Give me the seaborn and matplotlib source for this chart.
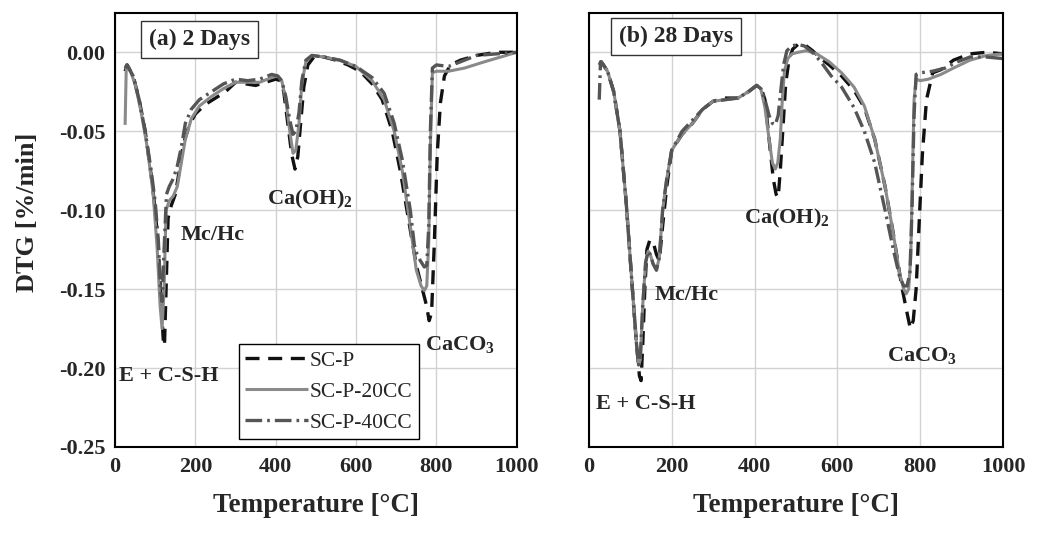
import numpy as np
import pandas as pd
import matplotlib
matplotlib.use("Agg")
import matplotlib.pyplot as plt
import seaborn as sns

# ---------------- data ----------------
# (a) 2 days
a_scp_T = [25, 30, 45, 60, 75, 90, 100, 108, 115, 120, 123, 127, 132, 140, 150, 160, 170, 185, 200, 225, 250, 275,
           300, 325, 350, 375, 400, 412, 420, 430, 440, 448, 455, 462, 470, 480, 495, 520, 550, 580, 610, 640, 665,
           690, 710, 730, 750, 765, 775, 782, 788, 795, 802, 810, 820, 835, 860, 900, 950, 1000]
a_scp_V = [-0.012, -0.008, -0.015, -0.030, -0.050, -0.078, -0.100, -0.125, -0.160, -0.182, -0.186, -0.150, -0.105,
           -0.097, -0.090, -0.075, -0.058, -0.046, -0.039, -0.033, -0.029, -0.025, -0.019, -0.020, -0.021, -0.019,
           -0.017, -0.018, -0.025, -0.045, -0.065, -0.074, -0.066, -0.045, -0.022, -0.008, -0.003, -0.003, -0.005,
           -0.008, -0.012, -0.020, -0.030, -0.050, -0.075, -0.105, -0.135, -0.150, -0.160, -0.170, -0.165, -0.120,
           -0.065, -0.032, -0.015, -0.008, -0.005, -0.002, 0.0, 0.0]

a_20_T = [25, 28, 35, 50, 65, 80, 95, 105, 112, 117, 122, 127, 135, 145, 155, 165, 175, 190, 210, 240, 270, 300, 330,
          360, 390, 405, 415, 425, 435, 443, 450, 458, 465, 475, 490, 520, 560, 600, 640, 670, 695, 715, 735, 750,
          762, 770, 776, 781, 785, 790, 800, 830, 870, 920, 960, 1000]
a_20_V = [-0.046, -0.008, -0.010, -0.020, -0.038, -0.060, -0.090, -0.125, -0.160, -0.175, -0.150, -0.100, -0.094,
          -0.091, -0.085, -0.070, -0.055, -0.042, -0.034, -0.028, -0.023, -0.019, -0.019, -0.019, -0.016, -0.015,
          -0.018, -0.030, -0.050, -0.064, -0.062, -0.045, -0.020, -0.006, -0.002, -0.003, -0.005, -0.009, -0.018,
          -0.030, -0.050, -0.075, -0.110, -0.138, -0.148, -0.151, -0.148, -0.120, -0.060, -0.013, -0.012, -0.012,
          -0.010, -0.006, -0.003, 0.0]

a_40_T = [25, 30, 45, 60, 75, 90, 100, 108, 113, 117, 122, 128, 135, 145, 155, 165, 175, 190, 210, 240, 270, 300, 330,
          360, 390, 405, 415, 425, 435, 443, 450, 458, 465, 475, 490, 520, 560, 600, 640, 670, 695, 715, 735, 745,
          752, 760, 770, 776, 781, 785, 790, 800, 830, 860, 900, 950, 1000]
a_40_V = [-0.010, -0.008, -0.015, -0.030, -0.050, -0.075, -0.095, -0.120, -0.150, -0.158, -0.125, -0.090, -0.085,
          -0.080, -0.072, -0.060, -0.045, -0.036, -0.030, -0.025, -0.020, -0.017, -0.018, -0.017, -0.014, -0.015,
          -0.018, -0.028, -0.043, -0.052, -0.050, -0.038, -0.018, -0.005, -0.002, -0.003, -0.005, -0.009, -0.016,
          -0.026, -0.045, -0.068, -0.100, -0.122, -0.128, -0.132, -0.136, -0.135, -0.110, -0.050, -0.010, -0.008,
          -0.009, -0.006, -0.002, -0.001, 0.0]

# (b) 28 days
b_scp_T = [25, 30, 45, 60, 75, 90, 105, 115, 122, 126, 130, 135, 140, 147, 155, 163, 170, 178, 188, 200, 225, 250,
           275, 300, 330, 360, 385, 405, 415, 425, 435, 445, 452, 457, 462, 468, 475, 483, 492, 505, 520, 540, 560,
           580, 610, 640, 665, 690, 715, 735, 755, 768, 776, 783, 790, 797, 805, 815, 830, 850, 880, 920, 960, 1000]
b_scp_V = [-0.008, -0.006, -0.012, -0.025, -0.050, -0.095, -0.150, -0.185, -0.205, -0.208, -0.185, -0.150, -0.125,
           -0.119, -0.120, -0.128, -0.132, -0.110, -0.085, -0.062, -0.052, -0.045, -0.036, -0.031, -0.029, -0.029,
           -0.025, -0.021, -0.022, -0.030, -0.055, -0.080, -0.090, -0.092, -0.075, -0.050, -0.020, -0.005, 0.002,
           0.005, 0.005, 0.001, -0.004, -0.008, -0.015, -0.024, -0.035, -0.055, -0.085, -0.115, -0.148, -0.165,
           -0.175, -0.170, -0.150, -0.110, -0.065, -0.030, -0.013, -0.011, -0.005, -0.001, 0.0, -0.001]

b_20_T = [25, 30, 45, 60, 75, 90, 105, 115, 120, 124, 130, 137, 143, 148, 155, 163, 170, 178, 188, 200, 225, 250, 275,
          300, 330, 360, 385, 405, 415, 425, 435, 443, 450, 456, 462, 467, 472, 480, 490, 505, 525, 550, 580, 610,
          640, 665, 690, 715, 735, 750, 760, 766, 772, 777, 781, 785, 790, 800, 820, 850, 880, 920, 960, 1000]
b_20_V = [-0.008, -0.006, -0.012, -0.025, -0.050, -0.095, -0.150, -0.185, -0.198, -0.195, -0.160, -0.133, -0.126,
          -0.128, -0.134, -0.138, -0.130, -0.100, -0.080, -0.062, -0.052, -0.045, -0.036, -0.031, -0.030, -0.029,
          -0.025, -0.021, -0.023, -0.035, -0.055, -0.070, -0.074, -0.070, -0.055, -0.030, -0.012, -0.004, -0.001,
          0.000, 0.001, -0.001, -0.006, -0.013, -0.022, -0.034, -0.055, -0.085, -0.115, -0.140, -0.150, -0.153,
          -0.150, -0.130, -0.080, -0.030, -0.017, -0.018, -0.017, -0.014, -0.010, -0.005, -0.002, -0.001]

b_40_T = [25, 28, 35, 45, 60, 75, 90, 105, 115, 120, 124, 130, 137, 143, 148, 155, 163, 170, 178, 188, 200, 225, 250,
          275, 300, 330, 360, 385, 405, 415, 425, 435, 443, 450, 457, 463, 470, 478, 490, 505, 520, 540, 560, 585,
          610, 640, 665, 690, 715, 735, 750, 760, 768, 775, 780, 785, 790, 800, 830, 860, 890, 920, 960, 1000]
b_40_V = [-0.030, -0.006, -0.008, -0.012, -0.025, -0.050, -0.095, -0.150, -0.185, -0.198, -0.195, -0.160, -0.133,
          -0.126, -0.128, -0.134, -0.138, -0.130, -0.100, -0.080, -0.062, -0.050, -0.043, -0.036, -0.031, -0.030,
          -0.029, -0.025, -0.021, -0.023, -0.030, -0.040, -0.045, -0.046, -0.040, -0.025, -0.008, 0.001, 0.004,
          0.005, 0.004, 0.000, -0.006, -0.015, -0.022, -0.035, -0.050, -0.070, -0.100, -0.125, -0.142, -0.148,
          -0.148, -0.140, -0.100, -0.040, -0.014, -0.013, -0.012, -0.010, -0.006, -0.003, -0.003, -0.004]

series_names = ["SC-P", "SC-P-20CC", "SC-P-40CC"]
panel_titles = ["(a) 2 Days", "(b) 28 Days"]
x_ticks = [0, 200, 400, 600, 800, 1000]
y_ticks = [-0.25, -0.20, -0.15, -0.10, -0.05, 0.00]

# ---------------- style ----------------
sns.set_theme(style="whitegrid")
plt.rcParams["font.family"] = ["Liberation Serif", "DejaVu Serif"]
plt.rcParams["axes.unicode_minus"] = False
plt.rcParams["mathtext.fontset"] = "custom"
plt.rcParams["mathtext.rm"] = "Liberation Serif"
plt.rcParams["mathtext.bf"] = "Liberation Serif:bold"
plt.rcParams["mathtext.it"] = "Liberation Serif:italic"

colors = {"SC-P": "#111111", "SC-P-20CC": "#8a8a8a", "SC-P-40CC": "#555555"}
widths = {"SC-P": 2.4, "SC-P-20CC": 2.2, "SC-P-40CC": 2.4}
dashes = {"SC-P": (4.2, 2.6), "SC-P-20CC": None, "SC-P-40CC": (5.0, 1.5, 0.8, 1.5)}

fig = plt.figure(figsize=(10.46, 5.34), dpi=100)
ax1 = fig.add_axes([0.110, 0.163, 0.384, 0.813])
ax2 = fig.add_axes([0.563, 0.163, 0.396, 0.813])

panels = [
    (ax1, [(a_scp_T, a_scp_V), (a_20_T, a_20_V), (a_40_T, a_40_V)]),
    (ax2, [(b_scp_T, b_scp_V), (b_20_T, b_20_V), (b_40_T, b_40_V)]),
]

for ax, data in panels:
    for name, (T, V) in zip(series_names, data):
        df = pd.DataFrame({"T": T, "V": V})
        sns.lineplot(data=df, x="T", y="V", ax=ax, color=colors[name], linewidth=widths[name],
                     estimator=None, sort=False, label=name)
        ln = ax.lines[-1]
        if dashes[name] is not None:
            ln.set_dashes(dashes[name])
        ln.set_solid_capstyle("butt")
        ln.set_dash_capstyle("butt")
    if ax.get_legend() is not None:
        ax.get_legend().remove()
    ax.set_xlim(0, 1000)
    ax.set_ylim(-0.25, 0.025)
    ax.set_xticks(x_ticks)
    ax.set_yticks(y_ticks)
    ax.grid(True, color="#d2d2d2", linewidth=1.0)
    for sp in ax.spines.values():
        sp.set_color("black")
        sp.set_linewidth(1.5)
        sp.set_visible(True)
    ax.tick_params(axis="both", length=0, pad=7, labelsize=16)
    for lab in ax.get_xticklabels() + ax.get_yticklabels():
        lab.set_fontweight("bold")
    ax.set_xlabel("Temperature [°C]", fontsize=19.5, fontweight="bold", labelpad=12)
    ax.set_ylabel("")

ax1.yaxis.set_major_formatter(matplotlib.ticker.FormatStrFormatter("%.2f"))
for lab in ax1.get_yticklabels():
    lab.set_fontweight("bold")
ax2.set_yticklabels([])
ax1.set_ylabel("DTG [%/min]", fontsize=19, fontweight="bold")
ax1.yaxis.set_label_coords(-0.19, 0.54)

box = dict(boxstyle="square,pad=0.33", facecolor="white", edgecolor="#333333", linewidth=1.0)
ax1.text(211, 0.008, panel_titles[0], ha="center", va="center", fontsize=17, fontweight="bold", bbox=box)
ax2.text(210, 0.010, panel_titles[1], ha="center", va="center", fontsize=17, fontweight="bold", bbox=box)

ann = dict(fontsize=16, fontweight="bold", ha="center", va="center")
ax1.text(242, -0.116, "Mc/Hc", **ann)
ax1.text(133, -0.205, "E + C-S-H", **ann)
ax1.text(485, -0.093, "Ca(OH)$_\\mathbf{2}$", **ann)
ax1.text(858, -0.185, "CaCO$_\\mathbf{3}$", **ann)
ax2.text(235, -0.154, "Mc/Hc", **ann)
ax2.text(137, -0.223, "E + C-S-H", **ann)
ax2.text(477, -0.105, "Ca(OH)$_\\mathbf{2}$", **ann)
ax2.text(804, -0.192, "CaCO$_\\mathbf{3}$", **ann)

handles = ax1.lines[:3]
leg = ax1.legend(handles, series_names, loc="lower left", bbox_to_anchor=(0.308, 0.018), borderaxespad=0,
                 fontsize=15.5, handlelength=2.9, handletextpad=0.1, labelspacing=0.5, borderpad=0.3,
                 fancybox=False, framealpha=1.0, edgecolor="black")
leg.get_frame().set_linewidth(1.0)

fig.savefig("out.png", dpi=100)
